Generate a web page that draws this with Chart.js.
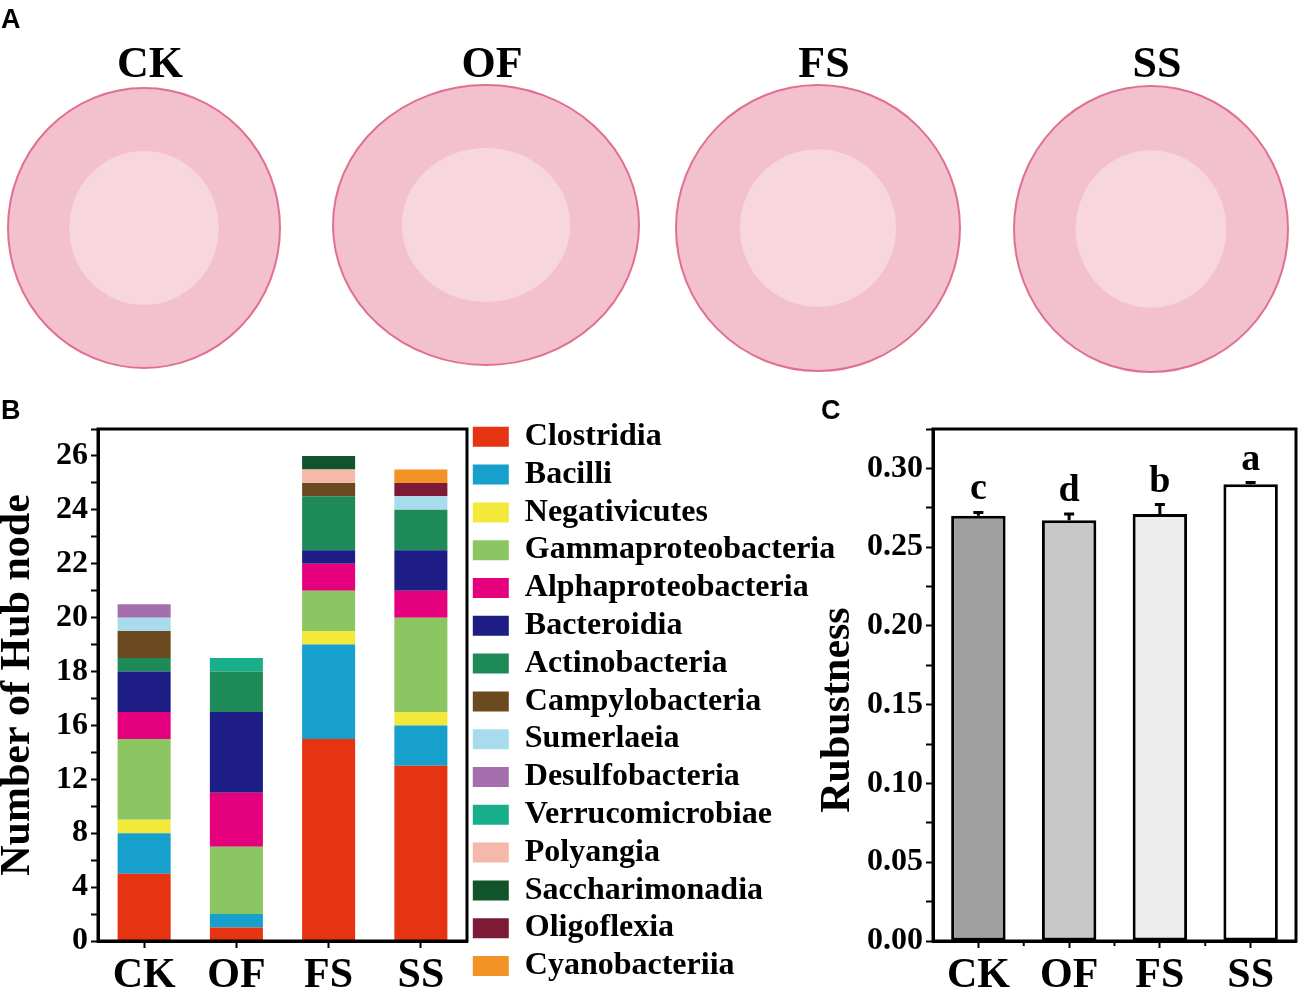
<!DOCTYPE html>
<html>
<head>
<meta charset="utf-8">
<script src="https://cdn.jsdelivr.net/npm/chart.js@4.4.0/dist/chart.umd.min.js"></script>
<style>
  body { margin: 0; background: #fff; }
  #wrap { position: relative; width: 1299px; height: 996px; overflow: hidden; }
  canvas { position: absolute; }
</style>
</head>
<body>
<div id="wrap">
  <canvas id="bg" width="1299" height="996" style="left:0;top:0"></canvas>
  <canvas id="hub" width="845" height="581" style="left:0;top:415px"></canvas>
  <canvas id="rob" width="484" height="581" style="left:815px;top:415px"></canvas>
</div>
<script>
const groups = ["CK", "OF", "FS", "SS"]

// panel B: hub nodes per class, stacked bottom to top (CK, OF, FS, SS)
const classes = [
  "Clostridia", "Bacilli", "Negativicutes", "Gammaproteobacteria", "Alphaproteobacteria",
  "Bacteroidia", "Actinobacteria", "Campylobacteria", "Sumerlaeia", "Desulfobacteria",
  "Verrucomicrobiae", "Polyangia", "Saccharimonadia", "Oligoflexia", "Cyanobacteriia",
]
const classColors = [
  "#e63312", "#17a0cc", "#f2e93b", "#8cc663", "#e5007e",
  "#1d1d85", "#1e8a57", "#6a4a1e", "#a8dcec", "#a56fae",
  "#17ae8a", "#f5b8aa", "#11542b", "#7d1a35", "#f39325",
]
const clostridia = [5, 1, 15, 13]
const bacilli = [3, 1, 7, 3]
const negativicutes = [1, 0, 1, 1]
const gammaproteobacteria = [6, 5, 3, 7]
const alphaproteobacteria = [2, 4, 2, 2]
const bacteroidia = [3, 6, 1, 3]
const actinobacteria = [1, 3, 4, 3]
const campylobacteria = [2, 0, 1, 0]
const sumerlaeia = [1, 0, 0, 1]
const desulfobacteria = [1, 0, 0, 0]
const verrucomicrobiae = [0, 1, 0, 0]
const polyangia = [0, 0, 1, 0]
const saccharimonadia = [0, 0, 1, 0]
const oligoflexia = [0, 0, 0, 1]
const cyanobacteriia = [0, 0, 0, 1]
const hubCounts = [
  clostridia, bacilli, negativicutes, gammaproteobacteria, alphaproteobacteria,
  bacteroidia, actinobacteria, campylobacteria, sumerlaeia, desulfobacteria,
  verrucomicrobiae, polyangia, saccharimonadia, oligoflexia, cyanobacteriia,
]
// the tick labels as printed in the figure (one every 4 nodes)
const hubTickLabels = ["0", "4", "8", "12", "16", "18", "20", "22", "24", "26"]

// panel C
const robustness = [0.270, 0.267, 0.271, 0.290]
const robustnessErr = [0.002, 0.004, 0.006, 0.001]
const robustnessLetters = ["c", "d", "b", "a"]
const barGreys = ["#a0a0a0", "#c8c8c8", "#ececec", "#ffffff"]

const serif = "'Liberation Serif', 'Times New Roman', serif"
const boldSerif = (size, lineHeight) => ({ family: serif, weight: "bold", size: size, lineHeight: lineHeight || 1.2 })

// ---- panel A: network pictures are only sketched as discs ----
const bg = document.getElementById("bg").getContext("2d")
bg.fillStyle = "#000"
bg.font = "bold 27px 'Liberation Sans', Arial, sans-serif"
bg.fillText("A", 1, 28)
bg.fillText("B", 1, 419)
bg.fillText("C", 821, 419)

const discs = [
  { x: 144, y: 228, rx: 136, ry: 140 },
  { x: 486, y: 225, rx: 153, ry: 140 },
  { x: 818, y: 228, rx: 142, ry: 143 },
  { x: 1151, y: 229, rx: 137, ry: 143 },
]
discs.forEach((d, i) => {
  bg.beginPath()
  bg.ellipse(d.x, d.y, d.rx, d.ry, 0, 0, Math.PI * 2)
  bg.fillStyle = "rgba(226, 104, 138, 0.42)"
  bg.fill()
  bg.lineWidth = 2
  bg.strokeStyle = "#e0708f"
  bg.stroke()
  bg.beginPath()
  bg.ellipse(d.x, d.y, d.rx * 0.55, d.ry * 0.55, 0, 0, Math.PI * 2)
  bg.fillStyle = "rgba(255, 255, 255, 0.35)"
  bg.fill()
  bg.fillStyle = "#000"
  bg.font = "bold 44px " + serif
  bg.textAlign = "center"
  bg.fillText(groups[i], d.x + 6, 77)
})

// ---- shared plugins ----
const frame = {
  id: "frame",
  afterDatasetsDraw(chart, args, opts) {
    const { ctx, chartArea } = chart
    ctx.save()
    ctx.strokeStyle = "#000"
    ctx.lineWidth = 3
    ctx.strokeRect(chartArea.left, chartArea.top, chartArea.right - chartArea.left, chartArea.bottom - chartArea.top)
    if (opts.minorX) {
      // small ticks between the categories
      const x = chart.scales.x
      ctx.lineWidth = 2
      for (let i = 0; i < groups.length - 1; i++) {
        const px = (x.getPixelForValue(i) + x.getPixelForValue(i + 1)) / 2
        ctx.beginPath()
        ctx.moveTo(px, chartArea.bottom)
        ctx.lineTo(px, chartArea.bottom + 5)
        ctx.stroke()
      }
    }
    ctx.restore()
  },
}

const xAxis = {
  grid: { display: true, drawOnChartArea: false, offset: false, tickLength: 7, tickWidth: 2, tickColor: "#000" },
  border: { color: "#000", width: 3 },
  ticks: { color: "#000", font: boldSerif(42), padding: 3 },
  afterFit: (s) => { s.height = 55; s.paddingLeft = 0; s.paddingRight = 0 },
}

// ---- panel B ----
new Chart(document.getElementById("hub"), {
  type: "bar",
  data: {
    labels: groups,
    datasets: classes.map((name, k) => ({
      label: name,
      data: hubCounts[k],
      backgroundColor: classColors[k],
      categoryPercentage: 1,
      barPercentage: 0.575,
    })),
  },
  options: {
    responsive: false,
    animation: false,
    layout: { padding: 0, autoPadding: false },
    scales: {
      x: Object.assign({ stacked: true }, xAxis),
      x2: {
        position: "top",
        grid: { display: false },
        ticks: { display: false },
        border: { display: false },
        afterFit: (s) => { s.height = 14 },
      },
      y: {
        stacked: true,
        min: 0,
        max: 38,
        grid: { drawOnChartArea: false, tickLength: 7, tickWidth: 2, tickColor: "#000" },
        border: { color: "#000", width: 3 },
        ticks: {
          stepSize: 2,
          autoSkip: false,
          padding: 3,
          color: "#000",
          font: boldSerif(32),
          callback: (v) => (v % 4 === 0 ? hubTickLabels[v / 4] : ""),
        },
        title: { display: true, text: "Number of Hub node", color: "#000", font: boldSerif(42, 0.86), padding: 0 },
        afterFit: (s) => { s.width = 98; s.paddingTop = 0; s.paddingBottom = 0 },
      },
    },
    plugins: {
      legend: {
        position: "right",
        align: "start",
        maxWidth: 378,
        labels: { boxWidth: 36, boxHeight: 20, padding: 5.8, color: "#000", font: boldSerif(32) },
      },
      tooltip: { enabled: false },
    },
  },
  plugins: [frame],
})

// ---- panel C ----
const sideTitle = {
  id: "sideTitle",
  afterDraw(chart, args, opts) {
    const ctx = chart.ctx
    ctx.save()
    ctx.translate(opts.x, opts.y)
    ctx.rotate(-Math.PI / 2)
    ctx.fillStyle = "#000"
    ctx.font = "bold 42px " + serif
    ctx.textAlign = "center"
    ctx.textBaseline = "middle"
    ctx.fillText(opts.text, 0, 0)
    ctx.restore()
  },
}

const errorBars = {
  id: "errorBars",
  afterDatasetsDraw(chart) {
    const ctx = chart.ctx
    const y = chart.scales.y
    ctx.save()
    ctx.strokeStyle = "#000"
    ctx.fillStyle = "#000"
    ctx.lineWidth = 3
    chart.getDatasetMeta(0).data.forEach((bar, i) => {
      const top = y.getPixelForValue(robustness[i] + robustnessErr[i])
      ctx.beginPath()
      ctx.moveTo(bar.x, bar.y)
      ctx.lineTo(bar.x, top)
      ctx.moveTo(bar.x - 5, top)
      ctx.lineTo(bar.x + 5, top)
      ctx.stroke()
      ctx.font = "bold 38px " + serif
      ctx.textAlign = "center"
      ctx.fillText(robustnessLetters[i], bar.x, top - 13)
    })
    ctx.restore()
  },
}

new Chart(document.getElementById("rob"), {
  type: "bar",
  data: {
    labels: groups,
    datasets: [{
      label: "Rubustness",
      data: robustness,
      backgroundColor: barGreys,
      borderColor: "#000",
      borderWidth: 3,
      borderSkipped: false,
      categoryPercentage: 1,
      barPercentage: 0.6,
    }],
  },
  options: {
    responsive: false,
    animation: false,
    layout: { padding: { top: 14, right: 3, left: 0, bottom: 0 }, autoPadding: false },
    scales: {
      x: xAxis,
      y: {
        min: 0,
        max: 0.325,
        grid: { drawOnChartArea: false, tickLength: 7, tickWidth: 2, tickColor: "#000" },
        border: { color: "#000", width: 3 },
        ticks: {
          stepSize: 0.025,
          autoSkip: false,
          padding: 3,
          color: "#000",
          font: boldSerif(32),
          callback: (v, i) => (i % 2 === 0 ? v.toFixed(2) : ""),
        },
        afterFit: (s) => { s.width = 118; s.paddingTop = 0; s.paddingBottom = 0 },
      },
    },
    plugins: {
      legend: { display: false },
      tooltip: { enabled: false },
      frame: { minorX: true },
      sideTitle: { text: "Rubustness", x: 23, y: 295 },
    },
  },
  plugins: [frame, errorBars, sideTitle],
})
</script>
</body>
</html>
